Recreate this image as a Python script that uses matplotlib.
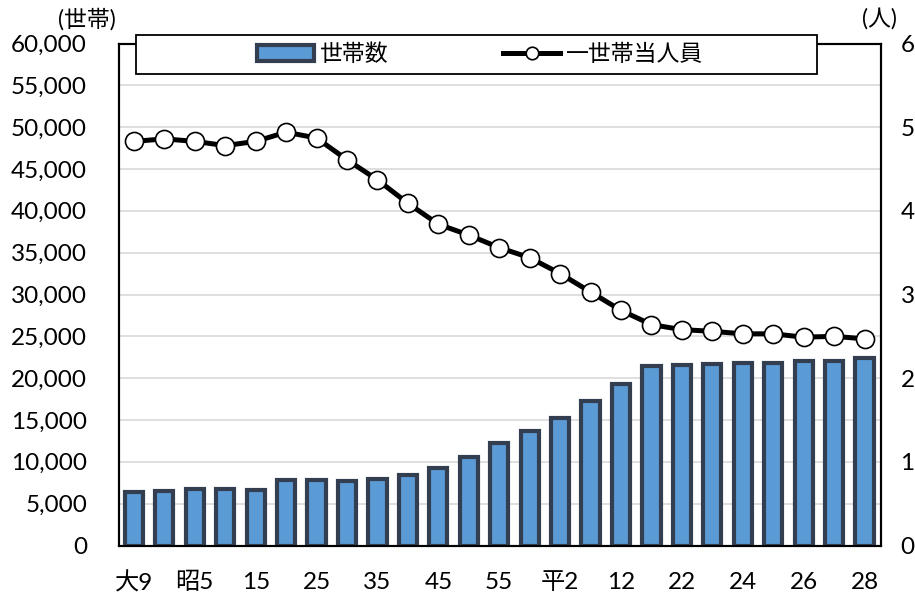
import matplotlib
matplotlib.use("Agg")
import matplotlib.pyplot as plt
from matplotlib.patches import Rectangle, Patch
from matplotlib.lines import Line2D
import numpy as np

plt.rcParams['font.family'] = ['Lato', 'Noto Sans CJK JP', 'DejaVu Sans']

categories = ["大9", "大14", "昭5", "昭10", "昭15", "昭20", "昭25", "昭30", "昭35", "昭40",
              "昭45", "昭50", "昭55", "昭60", "平2", "平7", "平12", "平17", "平22", "平23",
              "平24", "平25", "平26", "平27", "平28"]
tick_labels = ["大9", "", "昭5", "", "15", "", "25", "", "35", "", "45", "", "55", "",
               "平2", "", "12", "", "22", "", "24", "", "26", "", "28"]
households = [6400, 6550, 6700, 6700, 6600, 7830, 7790, 7710, 7980, 8430,
              9300, 10610, 12280, 13690, 15240, 17230, 19300, 21450, 21570, 21690,
              21850, 21850, 22090, 22050, 22370]
persons_per_household = [4.83, 4.86, 4.83, 4.78, 4.83, 4.94, 4.87, 4.61, 4.37, 4.09,
                         3.84, 3.71, 3.56, 3.44, 3.25, 3.03, 2.81, 2.64, 2.58, 2.56,
                         2.53, 2.53, 2.49, 2.50, 2.47]
label_bar = "世帯数"
label_line = "一世帯当人員"

W, H = 915, 597
fig = plt.figure(figsize=(W / 100, H / 100), dpi=100)
ax = fig.add_axes([119 / W, 1 - 545.5 / H, (881 - 119) / W, (545.5 - 43.5) / H])
ax2 = ax.twinx()

x = np.arange(len(categories))
bar_fill = "#5B9BD5"
bar_edge = "#333F50"
ax.bar(x, households, width=0.6, color=bar_fill, edgecolor=bar_edge, linewidth=3.0, zorder=3)
ax.set_ylim(0, 60000)
ax.set_yticks(np.arange(0, 60001, 5000))
ax.set_yticklabels([f"{v:,}" for v in range(0, 60001, 5000)])
ax.yaxis.grid(True, color="#D9D9D9", linewidth=1.2, zorder=0)
ax.set_axisbelow(True)
ax.set_xlim(-0.49, len(categories) - 1 + 0.54)
ax.set_xticks(x)
ax.set_xticklabels(tick_labels)

ax2.plot(x, persons_per_household, color="black", linewidth=3.6, marker="o",
         markersize=13, markerfacecolor="white", markeredgecolor="black",
         markeredgewidth=1.2, zorder=4)
ax2.set_ylim(0, 6)
ax2.set_yticks(range(0, 7))

for a in (ax, ax2):
    for s in a.spines.values():
        s.set_color("black")
        s.set_linewidth(1.5)
ax.tick_params(axis='y', length=0, pad=23, labelsize=17.5)
ax.tick_params(axis='x', length=0, pad=19, labelsize=17.5)
ax2.tick_params(axis='y', length=0, pad=14, labelsize=17.5)

fig.text(87 / W, 1 - 19 / H, "(世帯)", ha="center", va="center", fontsize=16.5)
fig.text(879 / W, 1 - 19 / H, "(人)", ha="center", va="center", fontsize=16.5)

# legend frame
fig.add_artist(Rectangle((136 / W, 1 - 74 / H), (817 - 136) / W, 39 / H,
                         transform=fig.transFigure, facecolor="white",
                         edgecolor="black", linewidth=1.3, zorder=4))
handles = [Patch(facecolor=bar_fill, edgecolor=bar_edge, linewidth=3.0),
           Line2D([0], [0], color="black", linewidth=3.6, marker="o", markersize=9,
                  markerfacecolor="white", markeredgecolor="black", markeredgewidth=1.2)]
leg = fig.legend(handles, [label_bar, label_line], loc="center",
                 bbox_to_anchor=(480 / W, 1 - 54.5 / H), ncol=2, frameon=False,
                 fontsize=16.5, handlelength=2.5, handletextpad=0.25, columnspacing=5.0)
leg.set_zorder(5)

fig.savefig("out.png", dpi=100)
